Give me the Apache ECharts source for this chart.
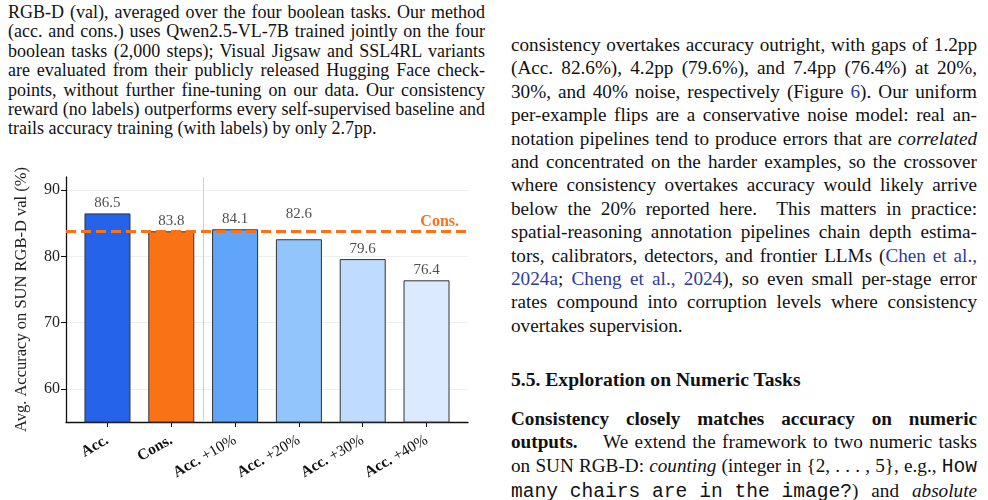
<!DOCTYPE html>
<html>
<head>
<meta charset="utf-8">
<script src="https://cdn.jsdelivr.net/npm/echarts@6/dist/echarts.min.js"></script>
<style>
html,body{margin:0;padding:0;background:#fff;width:988px;height:500px;overflow:hidden;}
.col{position:absolute;font-family:"Liberation Serif","Times New Roman",serif;color:#111;}
.cap{left:8px;top:3px;width:477px;font-size:18px;line-height:19.4px;}
.txt{left:511px;top:33px;width:466px;font-size:19.2px;line-height:23.4px;}
.j{text-align:justify;text-align-last:justify;white-space:nowrap;}
.l{color:#2b3b9b;}
.m{font-family:"Liberation Mono","DejaVu Sans Mono",monospace;font-size:19.6px;display:inline-block;}
.h{font-weight:bold;font-size:19.6px;margin-top:31px;}
.p2{margin-top:15px;}
#chart{position:absolute;left:0;top:140px;width:494px;height:360px;}
</style>
</head>
<body>
<div class="col cap">
<div class="j">RGB-D (val), averaged over the four boolean tasks. Our method</div>
<div class="j">(acc. and cons.) uses Qwen2.5-VL-7B trained jointly on the four</div>
<div class="j">boolean tasks (2,000 steps); Visual Jigsaw and SSL4RL variants</div>
<div class="j">are evaluated from their publicly released Hugging Face check-</div>
<div class="j">points, without further fine-tuning on our data. Our consistency</div>
<div class="j">reward (no labels) outperforms every self-supervised baseline and</div>
<div>trails accuracy training (with labels) by only 2.7pp.</div>
</div>

<div class="col txt">
<div class="j">consistency overtakes accuracy outright, with gaps of 1.2pp</div>
<div class="j">(Acc. 82.6%), 4.2pp (79.6%), and 7.4pp (76.4%) at 20%,</div>
<div class="j">30%, and 40% noise, respectively (Figure <span class="l">6</span>). Our uniform</div>
<div class="j">per-example flips are a conservative noise model: real an-</div>
<div class="j">notation pipelines tend to produce errors that are <i>correlated</i></div>
<div class="j">and concentrated on the harder examples, so the crossover</div>
<div class="j">where consistency overtakes accuracy would likely arrive</div>
<div class="j">below the 20% reported here.&nbsp; This matters in practice:</div>
<div class="j">spatial-reasoning annotation pipelines chain depth estima-</div>
<div class="j">tors, calibrators, detectors, and frontier LLMs (<span class="l">Chen et al.,</span></div>
<div class="j"><span class="l">2024a</span>; <span class="l">Cheng et al., 2024</span>), so even small per-stage error</div>
<div class="j">rates compound into corruption levels where consistency</div>
<div>overtakes supervision.</div>
<div class="h">5.5. Exploration on Numeric Tasks</div>
<div class="j p2"><b>Consistency closely matches accuracy on numeric</b></div>
<div class="j"><b>outputs.</b>&nbsp;&nbsp;&nbsp; We extend the framework to two numeric tasks</div>
<div class="j">on SUN RGB-D: <i>counting</i> (integer in {2, . . . , 5}, e.g., <span class="m">How</span></div>
<div class="j"><span class="m">many chairs are in the image?</span>) and <i>absolute</i></div>
</div>

<div id="chart"></div>
<script>
const categories = ['Acc.', 'Cons.', 'Acc. +10%', 'Acc. +20%', 'Acc. +30%', 'Acc. +40%'];
const accuracyValues = [86.5, 83.8, 84.1, 82.6, 79.6, 76.4];
const barColors = ['#2563EB', '#F97316', '#60A5FA', '#93C5FD', '#BFDBFE', '#DBEAFE'];
const yTickValues = [60, 70, 80, 90];
const referenceLabel = 'Cons.';
const yAxisTitle = 'Avg. Accuracy on SUN RGB-D val (%)';

const consValue = accuracyValues[categories.indexOf('Cons.')];
const xPositions = categories.map((_, i) => i);
const serif = "'Liberation Serif', 'Times New Roman', serif";

// keep a value label clear of the dashed reference line
function labelBase(v) {
  return (v < consValue && consValue - v < 1.5) ? consValue + 1.1 : v;
}

const chart = echarts.init(document.getElementById('chart'), null, {renderer: 'canvas'});
chart.setOption({
  animation: false,
  textStyle: {fontFamily: serif},
  grid: {left: 66, top: 37, width: 402, height: 245},
  xAxis: {
    type: 'value', min: -0.65, max: 5.65,
    axisLine: {show: true, onZero: false, lineStyle: {color: '#111', width: 1.3}},
    axisTick: {show: true, length: 5, customValues: xPositions, lineStyle: {color: '#111', width: 1}},
    axisLabel: {
      customValues: xPositions, rotate: 30, margin: 17,
      fontFamily: serif,
      formatter: function (v) {
        const c = categories[Math.round(v)] || '';
        const k = c.indexOf(' ');
        return k < 0 ? '{b|' + c + '}' : '{b|' + c.slice(0, k) + '}{n|' + c.slice(k) + '}';
      },
      rich: {
        b: {fontFamily: serif, fontWeight: 'bold', fontSize: 15.5, color: '#111'},
        n: {fontFamily: serif, fontSize: 15.5, color: '#111'}
      }
    },
    splitLine: {show: false}
  },
  yAxis: {
    type: 'value', min: 55, max: 92,
    name: yAxisTitle, nameLocation: 'middle', nameGap: 36,
    nameTextStyle: {fontFamily: serif, fontSize: 16.5, color: '#222'},
    axisLine: {show: true, onZero: false, lineStyle: {color: '#111', width: 1.3}},
    axisTick: {show: true, length: 5, customValues: yTickValues, lineStyle: {color: '#111', width: 1}},
    axisLabel: {customValues: yTickValues, fontFamily: serif, fontSize: 16, color: '#222', margin: 6},
    splitLine: {show: true, lineStyle: {color: '#eeeeee', width: 1}}
  },
  series: [
    {
      type: 'bar',
      barWidth: 46,
      data: accuracyValues.map((v, i) => ({value: [i, v], itemStyle: {color: barColors[i]}})),
      itemStyle: {borderColor: '#333', borderWidth: 1},
      markLine: {
        silent: true,
        symbol: ['none', 'none'],
        data: [
          {xAxis: 1.5, lineStyle: {color: '#d0d0d0', width: 1, type: 'solid'}, label: {show: false}},
          {yAxis: consValue, lineStyle: {color: '#F97316', width: 3, type: [10, 5]},
           label: {show: true, position: 'insideEndTop', distance: 1, formatter: referenceLabel, color: '#F97316',
                   fontFamily: serif, fontWeight: 'bold', fontSize: 16, padding: [0, 8, 0, 0]}}
        ]
      }
    },
    {
      type: 'scatter',
      symbolSize: 1,
      itemStyle: {color: 'transparent'},
      data: accuracyValues.map((v, i) => [i, labelBase(v)]),
      label: {
        show: true, position: 'top', distance: 2,
        fontFamily: serif, fontSize: 15, color: '#222',
        formatter: p => accuracyValues[p.dataIndex].toFixed(1)
      },
      z: 5
    }
  ]
});
</script>
</body>
</html>
